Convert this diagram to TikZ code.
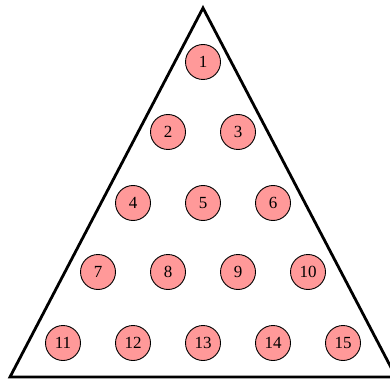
\documentclass[tikz,border=0pt]{standalone}
\usepackage{fontspec}
\setmainfont{Liberation Serif}
\begin{document}
\begin{tikzpicture}[x=1pt,y=-1pt,
  peg/.style={circle,draw=black,line width=0.9pt,fill={rgb,255:red,255;green,153;blue,153},minimum size=35pt,inner sep=0pt,font=\fontsize{17}{17}\selectfont}]
\useasboundingbox (0,0) rectangle (390,379);
\begin{scope}
\clip (0,0) rectangle (390,379);
\coordinate (apex) at (203,8);
\coordinate (bl) at (10,377);
\coordinate (br) at (396,377);
\draw[line width=2.8pt,line join=miter] (apex) -- (bl) -- (br) -- cycle;
\end{scope}
\node[peg] (n1) at (203,62) {1};
\node[peg] (n2) at (168,132) {2};
\node[peg] (n3) at (238,132) {3};
\node[peg] (n4) at (133,203) {4};
\node[peg] (n5) at (203,203) {5};
\node[peg] (n6) at (273,203) {6};
\node[peg] (n7) at (98,272) {7};
\node[peg] (n8) at (168,272) {8};
\node[peg] (n9) at (238,272) {9};
\node[peg] (n10) at (308,272) {10};
\node[peg] (n11) at (63,343) {11};
\node[peg] (n12) at (133,343) {12};
\node[peg] (n13) at (203,343) {13};
\node[peg] (n14) at (273,343) {14};
\node[peg] (n15) at (343,343) {15};
\end{tikzpicture}
\end{document}
